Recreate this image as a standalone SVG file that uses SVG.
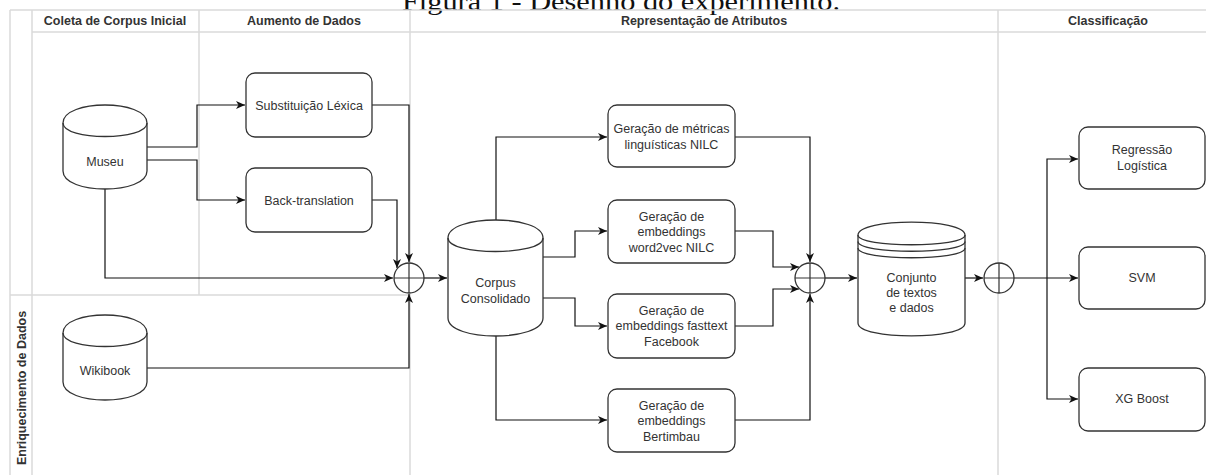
<svg xmlns="http://www.w3.org/2000/svg" width="1206" height="475" viewBox="0 0 1206 475">
<style>
.frame{stroke:#dadada;stroke-width:1.5;fill:none}
.hdr{font-family:"Liberation Sans",Arial,sans-serif;font-size:12.5px;font-weight:bold;fill:#333;text-anchor:middle}
.lbl{font-family:"Liberation Sans",Arial,sans-serif;font-size:12.5px;fill:#333;text-anchor:middle}
.box{fill:#fff;stroke:#333;stroke-width:1.3}
.shape{fill:#fff;stroke:#333;stroke-width:1.3}
.front{fill:none;stroke:#333;stroke-width:1.3}
.edge{fill:none;stroke:#111;stroke-width:1.2}
.orc{fill:#fff;stroke:#333;stroke-width:1.3}
.cross{stroke:#333;stroke-width:1.2}
.title{font-family:"Liberation Serif","Times New Roman",serif;font-size:26px;fill:#111}
</style>
<defs>
<marker id="arr" markerUnits="userSpaceOnUse" markerWidth="10" markerHeight="10" viewBox="0 0 10 10" refX="9" refY="5" orient="auto">
<path d="M0,1 L9,5 L0,9 L2.5,5 Z" fill="#111"/>
</marker>
</defs>
<rect x="0" y="0" width="1206" height="475" fill="#fff"/>
<text class="title" x="402" y="10" textLength="438" lengthAdjust="spacingAndGlyphs">Figura 1 - Desenho do experimento.</text>

<g id="swimlanes">
<path class="frame" d="M10,10 H1206 M10,10 V475 M32,10 V475 M32,32 H1206 M10,295 H410 M199,10 V295 M410,10 V475 M998,10 V475"/>
<text class="hdr" x="115" y="25">Coleta de Corpus Inicial</text>
<text class="hdr" x="304" y="25">Aumento de Dados</text>
<text class="hdr" x="704" y="25">Representação de Atributos</text>
<text class="hdr" x="1108" y="25">Classificação</text>
<text class="hdr" transform="translate(25.5,388) rotate(-90)">Enriquecimento de Dados</text>
</g>

<g id="connectors">
<path class="edge" marker-end="url(#arr)" d="M147,147 H197 V105 H245"/>
<path class="edge" marker-end="url(#arr)" d="M147,160 H197 V200 H245"/>
<path class="edge" marker-end="url(#arr)" d="M105,189 V278 H393"/>
<path class="edge" marker-end="url(#arr)" d="M372,105 H409 V262"/>
<path class="edge" marker-end="url(#arr)" d="M372,200 H397 V268"/>
<path class="edge" marker-end="url(#arr)" d="M147,368 H409 V294"/>
<path class="edge" marker-end="url(#arr)" d="M424,278 H447"/>
<path class="edge" marker-end="url(#arr)" d="M496,220 V137 H607"/>
<path class="edge" marker-end="url(#arr)" d="M543,257 H575 V231 H607"/>
<path class="edge" marker-end="url(#arr)" d="M543,298 H575 V326 H607"/>
<path class="edge" marker-end="url(#arr)" d="M496,336 V420 H607"/>
<path class="edge" marker-end="url(#arr)" d="M735,137 H810 V262"/>
<path class="edge" marker-end="url(#arr)" d="M735,231 H773 V267 H799"/>
<path class="edge" marker-end="url(#arr)" d="M735,326 H773 V289 H799"/>
<path class="edge" marker-end="url(#arr)" d="M735,420 H810 V294"/>
<path class="edge" marker-end="url(#arr)" d="M825,278 H857"/>
<path class="edge" marker-end="url(#arr)" d="M965,278 H983"/>
<path class="edge" marker-end="url(#arr)" d="M1014,278 H1078"/>
<path class="edge" marker-end="url(#arr)" d="M1047,278 V159 H1078"/>
<path class="edge" marker-end="url(#arr)" d="M1047,278 V399 H1078"/>
</g>

<g id="museu">
<path class="shape" d="M63,123 C63,99 147,99 147,123 V171 C147,195 63,195 63,171 Z"/>
<path class="front" d="M63,123 C63,141 147,141 147,123"/>
<text class="lbl" x="105" y="166">Museu</text>
</g>
<g id="wikibook">
<path class="shape" d="M63,333 C63,309 147,309 147,333 V382 C147,406 63,406 63,382 Z"/>
<path class="front" d="M63,333 C63,351 147,351 147,333"/>
<text class="lbl" x="105" y="375">Wikibook</text>
</g>
<g id="substituicao">
<rect class="box" x="246" y="73" width="126" height="64" rx="9"/>
<text class="lbl" x="309" y="109.5">Substituição Léxica</text>
</g>
<g id="backtranslation">
<rect class="box" x="246" y="168" width="126" height="64" rx="9"/>
<text class="lbl" x="309" y="204.5">Back-translation</text>
</g>
<g id="merge1">
<circle class="orc" cx="409" cy="278" r="15"/>
<path class="cross" d="M394,278 H424 M409,263 V293"/>
</g>
<g id="corpus">
<path class="shape" d="M448,238 C448,214 543,214 543,238 V318 C543,342 448,342 448,318 Z"/>
<path class="front" d="M448,238 C448,256 543,256 543,238"/>
<text class="lbl" x="495.5" y="287">Corpus</text>
<text class="lbl" x="495.5" y="303">Consolidado</text>
</g>
<g id="nilc">
<rect class="box" x="608" y="105" width="127" height="62" rx="9"/>
<text class="lbl" x="671.5" y="133">Geração de métricas</text>
<text class="lbl" x="671.5" y="149">linguísticas NILC</text>
</g>
<g id="word2vec">
<rect class="box" x="608" y="200" width="127" height="63" rx="9"/>
<text class="lbl" x="671.5" y="220.5">Geração de</text>
<text class="lbl" x="671.5" y="236">embeddings</text>
<text class="lbl" x="671.5" y="251.5">word2vec NILC</text>
</g>
<g id="fasttext">
<rect class="box" x="608" y="294" width="127" height="64" rx="9"/>
<text class="lbl" x="671.5" y="314.5">Geração de</text>
<text class="lbl" x="671.5" y="330">embeddings fasttext</text>
<text class="lbl" x="671.5" y="345.5">Facebook</text>
</g>
<g id="bertimbau">
<rect class="box" x="608" y="389" width="127" height="63" rx="9"/>
<text class="lbl" x="671.5" y="409.5">Geração de</text>
<text class="lbl" x="671.5" y="425">embeddings</text>
<text class="lbl" x="671.5" y="440.5">Bertimbau</text>
</g>
<g id="merge2">
<circle class="orc" cx="810" cy="278" r="15"/>
<path class="cross" d="M795,278 H825 M810,263 V293"/>
</g>
<g id="conjunto">
<path class="shape" d="M858,235 C858,217.7 965,217.7 965,235 V323 C965,340.3 858,340.3 858,323 Z"/>
<path class="front" d="M858,235 C858,248 965,248 965,235 M858,241.5 C858,254.5 965,254.5 965,241.5 M858,248 C858,261 965,261 965,248"/>
<text class="lbl" x="911.5" y="282">Conjunto</text>
<text class="lbl" x="911.5" y="297">de textos</text>
<text class="lbl" x="911.5" y="312">e dados</text>
</g>
<g id="merge3">
<circle class="orc" cx="999" cy="278" r="15"/>
<path class="cross" d="M984,278 H1014 M999,263 V293"/>
</g>
<g id="regressao">
<rect class="box" x="1079" y="127" width="126" height="62" rx="9"/>
<text class="lbl" x="1142" y="154">Regressão</text>
<text class="lbl" x="1142" y="170">Logística</text>
</g>
<g id="svm">
<rect class="box" x="1079" y="247" width="126" height="62" rx="9"/>
<text class="lbl" x="1142" y="282">SVM</text>
</g>
<g id="xgboost">
<rect class="box" x="1079" y="368" width="126" height="63" rx="9"/>
<text class="lbl" x="1142" y="403">XG Boost</text>
</g>
</svg>
